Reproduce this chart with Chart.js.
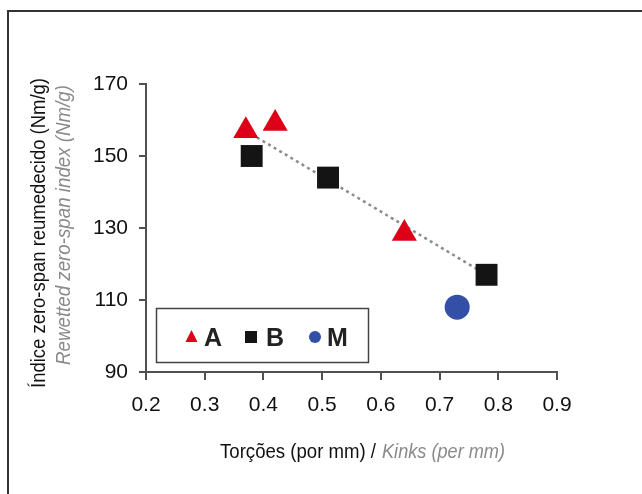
<!DOCTYPE html>
<html>
<head>
<meta charset="utf-8">
<script src="https://cdn.jsdelivr.net/npm/chart.js@4.4.1/dist/chart.umd.min.js"></script>
<style>
body{margin:0;background:#fff;}
#wrap{position:relative;width:642px;height:494px;}
</style>
</head>
<body>
<div id="wrap"><canvas id="myChart"></canvas></div>
<script>
var FONT = '"Liberation Sans Narrow", "Liberation Sans", Arial, sans-serif';

// data
var xTicks = [0.2, 0.3, 0.4, 0.5, 0.6, 0.7, 0.8, 0.9];
var yTicks = [90, 110, 130, 150, 170];
var seriesNames = ['A', 'B', 'M'];
var seriesA = [{x: 0.37, y: 157}, {x: 0.42, y: 159}, {x: 0.64, y: 128.5}];
var seriesB = [{x: 0.38, y: 150}, {x: 0.51, y: 144}, {x: 0.78, y: 117}];
var seriesM = [{x: 0.73, y: 108}];
var trendLine = [{x: 0.37, y: 157}, {x: 0.78, y: 117}];

var yTitle = 'Índice zero-span reumedecido (Nm/g)';
var yTitleEn = 'Rewetted zero-span index (Nm/g)';
var xTitle = 'Torções (por mm) /';
var xTitleEn = 'Kinks (per mm)';

var RED = '#dd0018';
var BLACK = '#141414';
var BLUE = '#3350a6';
var AXIS = '#505050';

// frame, axis titles and the boxed legend
var decor = {
    id: 'decor',
    beforeDraw: function(chart) {
        var ctx = chart.ctx;
        ctx.save();
        ctx.fillStyle = '#fff';
        ctx.fillRect(0, 0, chart.width, chart.height);
        ctx.strokeStyle = '#333';
        ctx.lineWidth = 2;
        ctx.beginPath();
        ctx.moveTo(8, chart.height);
        ctx.lineTo(8, 11);
        ctx.lineTo(chart.width, 11);
        ctx.stroke();
        ctx.restore();
    },
    afterDraw: function(chart) {
        var ctx = chart.ctx;
        ctx.save();
        // y title, two lines (squeezed a little, the original face is condensed)
        ctx.translate(39, 388);
        ctx.rotate(-Math.PI / 2);
        ctx.textBaseline = 'middle';
        ctx.textAlign = 'left';
        ctx.fillStyle = '#111';
        ctx.font = '20px ' + FONT;
        ctx.fillText(yTitle, 0, 0, 310);
        ctx.fillStyle = '#8a8a8a';
        ctx.font = 'italic 20px ' + FONT;
        ctx.fillText(yTitleEn, 23, 25, 280);
        ctx.restore();

        // x title, mixed style
        ctx.save();
        ctx.textBaseline = 'middle';
        ctx.textAlign = 'left';
        ctx.font = '20px ' + FONT;
        ctx.fillStyle = '#111';
        ctx.fillText(xTitle, 220, 452, 156);
        ctx.font = 'italic 20px ' + FONT;
        ctx.fillStyle = '#8a8a8a';
        ctx.fillText(xTitleEn, 382, 452, 123);
        ctx.restore();

        // legend box
        ctx.save();
        ctx.strokeStyle = '#444';
        ctx.lineWidth = 1.5;
        ctx.strokeRect(156.5, 308.5, 212, 54);
        var cy = 337;
        var ds = chart.data.datasets;
        // triangle
        ctx.fillStyle = ds[1].backgroundColor;
        ctx.beginPath();
        ctx.moveTo(191.5, cy - 7);
        ctx.lineTo(197.5, cy + 5);
        ctx.lineTo(185.5, cy + 5);
        ctx.closePath();
        ctx.fill();
        // square
        ctx.fillStyle = ds[2].backgroundColor;
        ctx.fillRect(245, cy - 6, 12, 12);
        // circle
        ctx.fillStyle = ds[3].backgroundColor;
        ctx.beginPath();
        ctx.arc(315, cy, 6, 0, Math.PI * 2);
        ctx.fill();
        ctx.fillStyle = '#222';
        ctx.font = 'bold 25px ' + FONT;
        ctx.textBaseline = 'alphabetic';
        ctx.fillText(seriesNames[0], 204, 346);
        ctx.fillText(seriesNames[1], 266, 346);
        ctx.fillText(seriesNames[2], 327, 346);
        ctx.restore();
    }
};

var ctx = document.getElementById('myChart').getContext('2d');
var chart = new Chart(ctx, {
    type: 'scatter',
    data: {
        datasets: [{
            type: 'line',
            label: 'trend',
            data: trendLine,
            borderColor: '#8c8c8c',
            borderWidth: 2.5,
            borderDash: [3, 3.5],
            pointRadius: 0,
            fill: false,
            order: 10
        }, {
            label: seriesNames[0],
            data: seriesA,
            pointStyle: 'triangle',
            pointRadius: 14.5,
            backgroundColor: RED,
            borderColor: RED,
            borderWidth: 0,
            order: 1
        }, {
            label: seriesNames[1],
            data: seriesB,
            pointStyle: 'rect',
            pointRadius: 15.5,
            backgroundColor: BLACK,
            borderColor: BLACK,
            borderWidth: 0,
            order: 2
        }, {
            label: seriesNames[2],
            data: seriesM,
            pointStyle: 'circle',
            pointRadius: 12.5,
            backgroundColor: BLUE,
            borderColor: BLUE,
            borderWidth: 0,
            order: 3
        }]
    },
    options: {
        responsive: true,
        maintainAspectRatio: false,
        animation: false,
        layout: {
            padding: {left: 8, top: 84, right: 85, bottom: 0}
        },
        plugins: {
            legend: {display: false},
            tooltip: {enabled: false}
        },
        scales: {
            x: {
                type: 'linear',
                min: 0.2,
                max: 0.9,
                afterBuildTicks: function(scale) {
                    scale.ticks = xTicks.map(function(v) { return {value: v}; });
                },
                afterFit: function(scale) { scale.height = 122; },
                ticks: {
                    color: '#111',
                    font: {family: FONT, size: 21},
                    padding: 13,
                    callback: function(v) { return v.toFixed(1); }
                },
                grid: {
                    drawOnChartArea: false,
                    drawTicks: true,
                    tickLength: 8,
                    color: AXIS,
                    lineWidth: 2
                },
                border: {display: true, color: AXIS, width: 2}
            },
            y: {
                min: 90,
                max: 170,
                afterBuildTicks: function(scale) {
                    scale.ticks = yTicks.map(function(v) { return {value: v}; });
                },
                afterFit: function(scale) { scale.width = 138; },
                ticks: {
                    color: '#111',
                    font: {family: FONT, size: 21},
                    padding: 11
                },
                grid: {
                    drawOnChartArea: false,
                    drawTicks: true,
                    tickLength: 7,
                    color: AXIS,
                    lineWidth: 2
                },
                border: {display: true, color: AXIS, width: 2}
            }
        }
    },
    plugins: [decor]
});
</script>
</body>
</html>
